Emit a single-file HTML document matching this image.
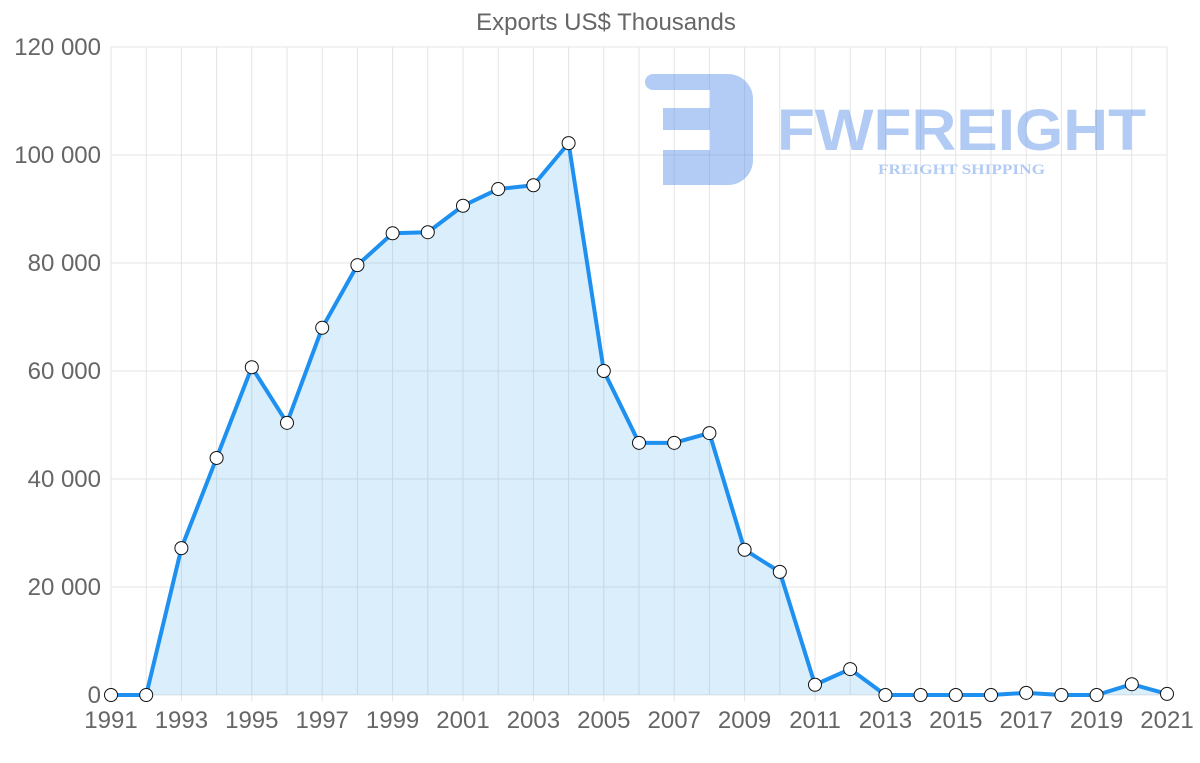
<!DOCTYPE html>
<html><head><meta charset="utf-8"><style>
html,body{margin:0;padding:0;background:#fff;}
svg{display:block;font-family:"Liberation Sans",sans-serif;}
</style></head><body>
<svg id="chart" width="1200" height="763">
<text x="606" y="30" text-anchor="middle" font-size="24" fill="#666">Exports US$ Thousands</text>
<g id="grid"></g>
<g opacity="0.42">
<path d="M653,74 H728 A25,25 0 0 1 753,99 V160 A25,25 0 0 1 728,185 H663 V150 H710 V130 H663 V108 H710 V90 H653 A8,8 0 0 1 653,74 Z" fill="#4a86e8"/>
<text x="777" y="150" font-size="58" font-weight="bold" fill="#4a86e8" textLength="369" lengthAdjust="spacingAndGlyphs">FWFREIGHT</text>
<text x="878" y="174" font-size="15" font-weight="bold" fill="#4a86e8" font-family="Liberation Serif,serif" textLength="167" lengthAdjust="spacingAndGlyphs">FREIGHT SHIPPING</text>
</g>
<g id="marks"></g>
<g id="axes"></g>
</svg>
<script>
const years=[];for(let y=1991;y<=2021;y++)years.push(y);
const values=[0,0,27200,43900,60700,50400,68000,79600,85500,85700,90600,93700,94400,102200,60000,46700,46700,48500,26900,22800,1900,4800,0,0,0,0,400,0,0,2000,200];
const yTicks=[0,20000,40000,60000,80000,100000,120000];
const yTickLabels=["0","20 000","40 000","60 000","80 000","100 000","120 000"];
const x0=111,x1=1167,yb=695,yt=47,ymax=120000;
const X=i=>x0+(x1-x0)*i/(years.length-1);
const Y=v=>yb-(yb-yt)*v/ymax;
const NS="http://www.w3.org/2000/svg";
function mk(tag,attrs,parent){const e=document.createElementNS(NS,tag);for(const k in attrs)e.setAttribute(k,attrs[k]);parent.appendChild(e);return e;}
const grid=document.getElementById('grid'),axes=document.getElementById('axes'),marks=document.getElementById('marks');
yTicks.forEach((t,i)=>{
 const l=mk('line',{x1:x0,x2:x1,y1:Y(t),y2:Y(t),stroke:'#e4e4e4','stroke-width':1},grid);
 
 
 const tx=mk('text',{x:101,y:Y(t)+8,'text-anchor':'end','font-size':24,fill:'#666'},axes);
 tx.textContent=yTickLabels[i];
 
 
});
years.forEach((yr,i)=>{
 const l=mk('line',{x1:X(i),x2:X(i),y1:yt,y2:yb+(i%2===0?6:0),stroke:'#e4e4e4','stroke-width':1},grid);
 
 
 if(i%2===0){
  const tx=mk('text',{x:X(i),y:728,'text-anchor':'middle','font-size':24,fill:'#666'},axes);
  tx.textContent=yr;
  
  
 }
});
let d='';values.forEach((v,i)=>{d+=(i?'L':'M')+X(i)+','+Y(v);});
const area=mk('path',{d:d+'L'+X(values.length-1)+','+yb+'L'+X(0)+','+yb+'Z',fill:'rgba(54,162,235,0.18)'},marks);


const line=mk('path',{d:d,fill:'none',stroke:'#1e90f0','stroke-width':4,'stroke-linejoin':'round'},marks);


values.forEach((v,i)=>{
 const c=mk('circle',{cx:X(i),cy:Y(v),r:6.5,fill:'#fff',stroke:'#111','stroke-width':1},marks);
 
 
});
</script>
</body></html>
